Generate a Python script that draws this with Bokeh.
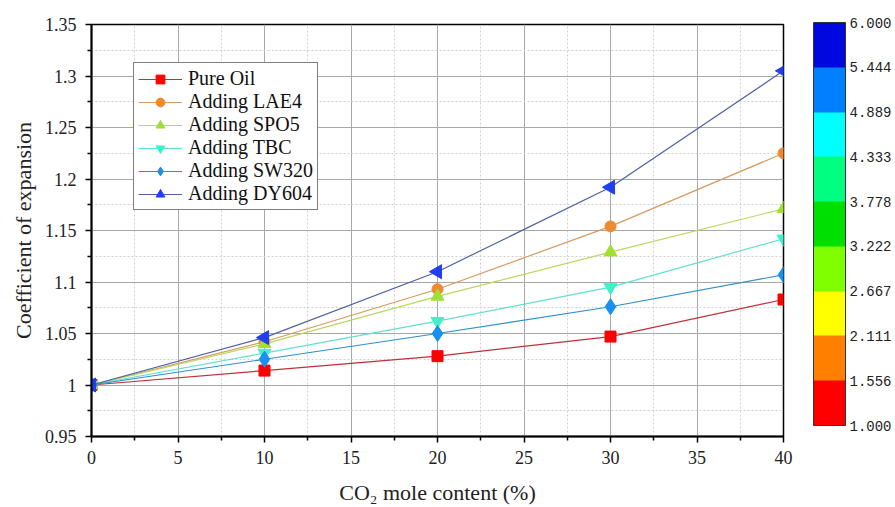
from bokeh.plotting import figure
from bokeh.models import (FixedTicker, CustomJSTickFormatter, Legend, LegendItem,
                          ColorBar, LinearColorMapper, Range1d)
from bokeh.embed import file_html
from bokeh.resources import INLINE

# ---------------- data ----------------
co2 = [0, 10, 20, 30, 40]
pure_oil = [1.000, 1.014, 1.028, 1.047, 1.083]
lae4 = [1.000, 1.042, 1.093, 1.154, 1.225]
spo5 = [1.000, 1.040, 1.086, 1.129, 1.171]
tbc = [1.000, 1.031, 1.062, 1.095, 1.142]
sw320 = [1.000, 1.025, 1.050, 1.076, 1.107]
dy604 = [1.000, 1.046, 1.110, 1.192, 1.305]

series_names = ["Pure Oil", "Adding LAE4", "Adding SPO5", "Adding TBC", "Adding SW320", "Adding DY604"]
series_values = [pure_oil, lae4, spo5, tbc, sw320, dy604]
line_colors = ["#c0303a", "#d89a60", "#b8d860", "#60e0d0", "#3090c8", "#5060a8"]
marker_colors = ["#ff0000", "#f08a30", "#a0e030", "#40f0c8", "#1890f0", "#2040f0"]
markers = ["square", "circle", "triangle", "inverted_triangle", "diamond", "triangle"]
marker_angles = [0, 0, 0, 0, 0, 1.5708]
marker_sizes = [11, 11, 13, 13, 16, 14]

y_ticks = [0.95, 1.0, 1.05, 1.1, 1.15, 1.2, 1.25, 1.3, 1.35]
x_ticks = [0, 5, 10, 15, 20, 25, 30, 35, 40]

cbar_colors = ["#ff0000", "#ff8000", "#ffff00", "#80ff00", "#00e000",
               "#00ff80", "#00ffff", "#0080ff", "#0008e0"]
cbar_ticks = [1.000, 1.556, 2.111, 2.667, 3.222, 3.778, 4.333, 4.889, 5.444, 6.000]

serif = "Liberation Serif"

p = figure(width=895, height=507, output_backend="svg", toolbar_location=None,
           x_range=Range1d(0, 40), y_range=Range1d(0.95, 1.35),
           min_border_left=91, min_border_right=112, min_border_top=24, min_border_bottom=71)
p.background_fill_color = "white"
p.border_fill_color = "white"
p.outline_line_color = "black"
p.outline_line_width = 1.5

items = []
for name, vals, lc, mc, mk, ang, sz in zip(series_names, series_values, line_colors,
                                            marker_colors, markers, marker_angles, marker_sizes):
    l = p.line(co2, vals, line_color=lc, line_width=1.2)
    s = p.scatter(co2, vals, marker=mk, size=sz, angle=ang, fill_color=mc, line_color=mc)
    items.append(LegendItem(label=name, renderers=[l, s]))

# axes
for ax in (p.xaxis[0], p.yaxis[0]):
    ax.axis_line_width = 2
    ax.axis_line_color = "black"
    ax.major_tick_line_color = "black"
    ax.major_tick_line_width = 1.5
    ax.minor_tick_line_color = "black"
    ax.minor_tick_line_width = 1.5
    ax.major_tick_out = 6
    ax.major_tick_in = 0
    ax.minor_tick_out = 4
    ax.minor_tick_in = 0
    ax.major_label_text_font = serif
    ax.major_label_text_font_size = "18px"
    ax.major_label_text_color = "#222222"
    ax.axis_label_text_font = serif
    ax.axis_label_text_font_size = "22px"
    ax.axis_label_text_font_style = "normal"
    ax.axis_label_text_color = "#222222"

p.xaxis.ticker = FixedTicker(ticks=x_ticks, minor_ticks=[2.5 + 5 * i for i in range(8)])
p.yaxis.ticker = FixedTicker(ticks=y_ticks, minor_ticks=[0.975 + 0.05 * i for i in range(8)])
p.yaxis.formatter = CustomJSTickFormatter(code="return String(Number(tick.toFixed(3)));")
p.xaxis.axis_label = "CO\u2082 mole content (%)"
p.yaxis.axis_label = "Coefficient of expansion"
p.xaxis.major_label_standoff = 8
p.yaxis.major_label_standoff = 9
p.xaxis.axis_label_standoff = 13
p.yaxis.axis_label_standoff = 6

# grids
for g in p.grid:
    g.grid_line_color = "#a8a8a8"
    g.grid_line_width = 1
    g.minor_grid_line_color = "#d0d0d0"
    g.minor_grid_line_dash = "2 2"
    g.minor_grid_line_width = 1

legend = Legend(items=items, location=(42, 226))
legend.label_text_font = serif
legend.label_text_font_size = "20px"
legend.label_text_color = "#111111"
legend.border_line_color = "black"
legend.border_line_width = 1
legend.background_fill_alpha = 1
legend.glyph_width = 44
legend.glyph_height = 22
legend.label_height = 22
legend.spacing = 0
legend.padding = 4
legend.margin = 0
legend.label_standoff = 6
p.add_layout(legend, "center")

mapper = LinearColorMapper(palette=cbar_colors, low=1.0, high=6.0)
cbar = ColorBar(color_mapper=mapper, width=32, height=403, location=(722, 11),
                ticker=FixedTicker(ticks=cbar_ticks),
                formatter=CustomJSTickFormatter(code="return tick.toFixed(3);"),
                major_label_text_font="Liberation Mono",
                major_label_text_font_size="14px",
                major_label_text_color="#222222",
                major_tick_line_color=None, minor_tick_line_color=None,
                bar_line_color="#333333", bar_line_width=1,
                label_standoff=4, padding=0, margin=0,
                background_fill_alpha=0, border_line_color=None)
p.add_layout(cbar, "center")

open("out.html", "w").write(file_html(p, INLINE))
